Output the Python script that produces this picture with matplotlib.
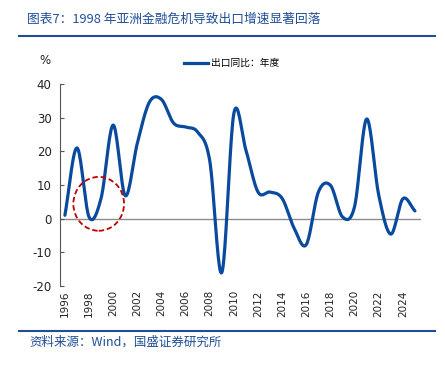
import numpy as np
import matplotlib
matplotlib.use("Agg")
import matplotlib.pyplot as plt
from matplotlib.patches import Ellipse
from matplotlib.lines import Line2D

plt.rcParams['font.family'] = ['Noto Sans CJK SC', 'DejaVu Sans']

years = [1996, 1997, 1998, 1999, 2000, 2001, 2002, 2003, 2004, 2005, 2006,
         2007, 2008, 2009, 2010, 2011, 2012, 2013, 2014, 2015, 2016, 2017,
         2018, 2019, 2020, 2021, 2022, 2023, 2024, 2025]
export_yoy = [1.0, 21.0, 0.5, 6.1, 27.8, 6.8, 22.4, 34.6, 35.4, 28.4, 27.2,
              25.7, 17.2, -16.0, 31.3, 20.3, 7.9, 7.9, 6.0, -2.9, -7.7, 7.9,
              9.9, 0.5, 3.6, 29.6, 7.0, -4.6, 5.9, 2.3]
xticks = list(range(1996, 2025, 2))
yticks = [-20, -10, 0, 10, 20, 30, 40]
title = "图表7：1998 年亚洲金融危机导致出口增速显著回落"
source = "资料来源：Wind，国盛证券研究所"
legend_label = "出口同比：年度"

BLUE = "#0A4A9E"
TITLE_BLUE = "#1F4E96"


def smooth(x, y, n=20):
    x = np.asarray(x, float)
    y = np.asarray(y, float)
    px = np.concatenate([[2 * x[0] - x[1]], x, [2 * x[-1] - x[-2]]])
    py = np.concatenate([[2 * y[0] - y[1]], y, [2 * y[-1] - y[-2]]])
    xs, ys = [], []
    t = np.linspace(0, 1, n, endpoint=False)
    for i in range(1, len(px) - 2):
        p0, p1, p2, p3 = (np.array([px[j], py[j]]) for j in range(i - 1, i + 3))
        for tt in t:
            pt = 0.5 * ((2 * p1) + (-p0 + p2) * tt +
                        (2 * p0 - 5 * p1 + 4 * p2 - p3) * tt ** 2 +
                        (-p0 + 3 * p1 - 3 * p2 + p3) * tt ** 3)
            xs.append(pt[0]); ys.append(pt[1])
    xs.append(x[-1]); ys.append(y[-1])
    return np.array(xs), np.array(ys)


fig = plt.figure(figsize=(4.45, 3.66), dpi=100)
ax = fig.add_axes([0.135, 0.2186, 0.811, 0.552])

sx, sy = smooth(years, export_yoy)
ax.axhline(0, color="#8C8C8C", lw=1.0, zorder=1)
ax.plot(sx, sy, color=BLUE, lw=2.3, solid_capstyle="round", zorder=3)

ax.add_patch(Ellipse((1998.8, 4.4), 4.2, 16.0, fill=False, ec="#C00000",
                     ls=(0, (3, 1.6)), lw=1.3, zorder=4))

ax.set_xlim(1995.6, 2025.5)
ax.set_ylim(-20, 40)
ax.set_yticks(yticks)
ax.set_yticklabels([str(v) for v in yticks], fontsize=8.5, color="#222222",
                   family="DejaVu Sans")
ax.set_xticks(xticks)
ax.set_xticklabels([str(v) for v in xticks], rotation=90, fontsize=7.5,
                   color="#222222", family="DejaVu Sans")
ax.tick_params(axis="x", length=0, pad=3)
ax.tick_params(axis="y", direction="in", length=3, width=0.8, color="#555555", pad=6)
for s in ["top", "right", "bottom"]:
    ax.spines[s].set_visible(False)
ax.spines["left"].set_color("#555555")
ax.spines["left"].set_linewidth(0.8)

fig.text(45 / 445, 1 - 60 / 366, "%", fontsize=8.5, color="#222222",
         ha="center", va="center", family="DejaVu Sans")

h = Line2D([], [], color=BLUE, lw=2.3)
fig.legend([h], [legend_label], loc="center", bbox_to_anchor=(232 / 445, 1 - 63 / 366),
           frameon=False, fontsize=7, handlelength=2.4, handletextpad=0.4)

fig.text(27 / 445, 1 - 19 / 366, title, fontsize=9.2, color=TITLE_BLUE,
         ha="left", va="center", style="italic")
fig.add_artist(Line2D([19 / 445, 435 / 445], [1 - 36 / 366, 1 - 36 / 366],
                      color=TITLE_BLUE, lw=1.5, transform=fig.transFigure))
fig.add_artist(Line2D([19 / 445, 435 / 445], [1 - 331 / 366, 1 - 331 / 366],
                      color=TITLE_BLUE, lw=1.5, transform=fig.transFigure))
fig.text(29 / 445, 1 - 342 / 366, source, fontsize=9, color=TITLE_BLUE,
         ha="left", va="center", style="italic")

fig.savefig("out.png", dpi=100)
